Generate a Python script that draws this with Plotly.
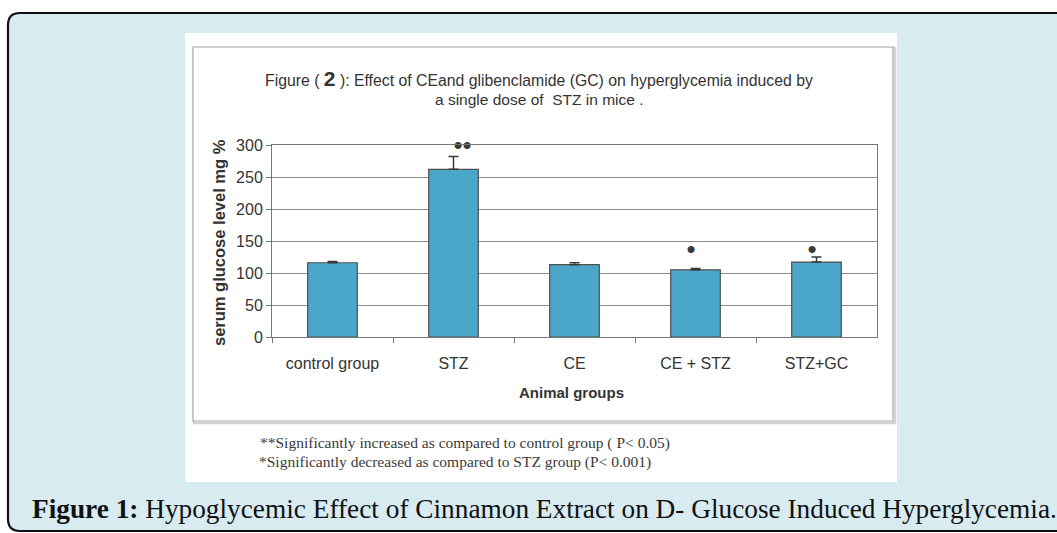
import plotly.graph_objects as go

# ---------------- data ----------------
groups = ["control group", "STZ", "CE", "CE + STZ", "STZ+GC"]
glucose = [116, 262, 113, 105, 117]
glucose_err = [2, 20, 3, 2, 8]
sig_y = [None, 296, None, 134, 134]
sig_marks = ["", "••", "", "•", "•"]
sig_pos = ["middle center", "middle right", "middle center", "middle left", "middle left"]
y_ticks = [0, 50, 100, 150, 200, 250, 300]

W, H = 1057, 533
def px(x):
    return x / W
def py(y):
    return 1 - y / H

fig = go.Figure()

fig.add_trace(go.Bar(
    x=groups, y=glucose,
    marker=dict(color="#4aa7c9", line=dict(color="#505050", width=1.2)),
    width=0.41,
    error_y=dict(type="data", symmetric=False, array=glucose_err,
                 arrayminus=[0] * len(glucose_err),
                 color="#3a3a3a", thickness=1.5, width=5),
    showlegend=False, hoverinfo="skip",
))
fig.add_trace(go.Scatter(
    x=groups, y=sig_y, mode="text", text=sig_marks,
    textfont=dict(family="Liberation Sans", size=26, color="#3a3a3a"),
    textposition=sig_pos, showlegend=False, hoverinfo="skip",
    cliponaxis=False,
))

# ------------- background shapes -------------
r = 12
L, T, R, B = 8, 13, 1075, 531
path = (f"M {px(L)},{py(T + r)} Q {px(L)},{py(T)} {px(L + r)},{py(T)} "
        f"L {px(R)},{py(T)} L {px(R)},{py(B)} L {px(L + r)},{py(B)} "
        f"Q {px(L)},{py(B)} {px(L)},{py(B - r)} Z")
shapes = [
    dict(type="path", path=path, xref="paper", yref="paper",
         fillcolor="#d7ebf1", line=dict(color="#111111", width=2.2), layer="below"),
    dict(type="rect", xref="paper", yref="paper",
         x0=px(185), x1=px(897), y0=py(482), y1=py(33),
         fillcolor="#ffffff", line=dict(width=0), layer="below"),
    dict(type="rect", xref="paper", yref="paper",
         x0=px(194), x1=px(895), y0=py(423), y1=py(48),
         fillcolor="rgba(0,0,0,0)", line=dict(color="#d4d4d4", width=2.5), layer="below"),
    dict(type="rect", xref="paper", yref="paper",
         x0=px(193), x1=px(893), y0=py(421), y1=py(47),
         fillcolor="#ffffff", line=dict(color="#a8a8a8", width=1.2), layer="below"),
]

txt = "#333333"
annotations = [
    dict(text="Figure ( <b><span style='font-size:21px'>2</span></b> ): Effect of CEand glibenclamide (GC) on hyperglycemia induced by",
         x=px(539), y=py(78), xref="paper", yref="paper", showarrow=False,
         xanchor="center", yanchor="middle",
         font=dict(family="Liberation Sans", size=15.8, color=txt)),
    dict(text="a single dose of  STZ in mice .",
         x=px(539), y=py(99), xref="paper", yref="paper", showarrow=False,
         xanchor="center", yanchor="middle",
         font=dict(family="Liberation Sans", size=15.5, color=txt)),
    dict(text="<b>serum glucose level mg %</b>",
         x=px(219), y=py(243), xref="paper", yref="paper", showarrow=False,
         textangle=-90, xanchor="center", yanchor="middle",
         font=dict(family="Liberation Sans", size=16.5, color=txt)),
    dict(text="<b>Animal groups</b>",
         x=px(571), y=py(392), xref="paper", yref="paper", showarrow=False,
         xanchor="center", yanchor="middle",
         font=dict(family="Liberation Sans", size=15, color=txt)),
    dict(text="**Significantly increased as compared to control group ( P< 0.05)",
         x=px(258), y=py(443), xref="paper", yref="paper", showarrow=False,
         xanchor="left", yanchor="middle",
         font=dict(family="Liberation Serif", size=15.5, color="#3a3a3a")),
    dict(text="*Significantly decreased as compared to STZ group (P< 0.001)",
         x=px(257), y=py(462), xref="paper", yref="paper", showarrow=False,
         xanchor="left", yanchor="middle",
         font=dict(family="Liberation Serif", size=15.5, color="#3a3a3a")),
    dict(text="<b>Figure 1:</b> Hypoglycemic Effect of Cinnamon Extract on D- Glucose Induced Hyperglycemia.",
         x=px(30), y=py(509), xref="paper", yref="paper", showarrow=False,
         xanchor="left", yanchor="middle",
         font=dict(family="Liberation Serif", size=27.3, color="#111111")),
]

fig.update_layout(
    width=W, height=H,
    margin=dict(l=0, r=0, t=0, b=0, pad=0, autoexpand=False),
    paper_bgcolor="#ffffff",
    plot_bgcolor="rgba(0,0,0,0)",
    shapes=shapes,
    annotations=annotations,
    xaxis=dict(
        domain=[px(272), px(877)], automargin=False,
        tickson="boundaries", ticks="outside", ticklen=5, tickcolor="#777777",
        showline=True, linecolor="#777777", linewidth=1, mirror=True,
        showgrid=False, ticklabelstandoff=12,
        tickfont=dict(family="Liberation Sans", size=16, color=txt),
    ),
    yaxis=dict(
        domain=[py(337), py(145)], automargin=False,
        range=[0, 300], tickvals=y_ticks,
        ticks="outside", ticklen=5, tickcolor="#777777",
        showline=True, linecolor="#777777", linewidth=1, mirror=True,
        showgrid=True, gridcolor="#8c8c8c", gridwidth=1,
        zeroline=False,
        tickfont=dict(family="Liberation Sans", size=16, color=txt),
    ),
)

fig.write_html(
    "out.html",
    config={"displayModeBar": False},
    post_script="document.body.style.margin='0px';document.body.style.overflow='hidden';",
)
